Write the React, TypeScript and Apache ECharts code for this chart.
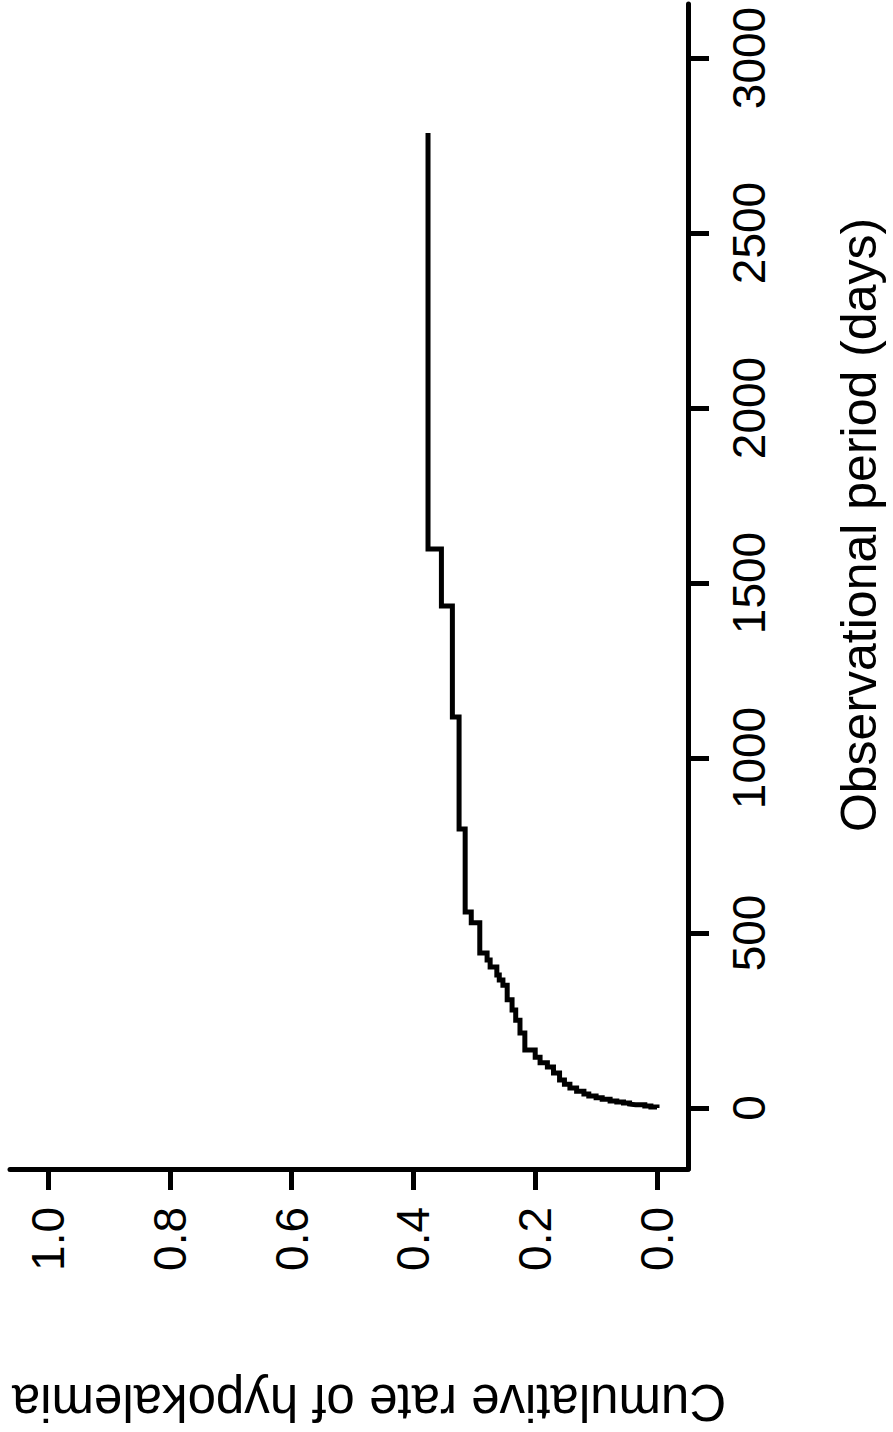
import React, { useEffect, useRef } from "react";
import * as echarts from "echarts";

// Cumulative incidence step function (event day -> cumulative rate after that event)
const eventDays = [0, 3, 6, 9, 11, 14, 17, 20, 25, 29, 34, 40, 48, 57, 68, 80, 100, 117, 129, 145, 166, 214, 251, 280, 309, 351, 366, 380, 403, 423, 443, 529, 560, 797, 1117, 1434, 1597];
const cumRate = [0, 0.01, 0.02, 0.035, 0.045, 0.055, 0.066, 0.077, 0.09, 0.1, 0.112, 0.12, 0.132, 0.143, 0.152, 0.16, 0.17, 0.18, 0.192, 0.2, 0.217, 0.225, 0.232, 0.238, 0.246, 0.253, 0.259, 0.263, 0.274, 0.279, 0.291, 0.305, 0.315, 0.325, 0.336, 0.354, 0.376];
const lastFollowUpDay = 2786;

const dayTicks = [0, 500, 1000, 1500, 2000, 2500, 3000];
const rateTicks = [0, 0.2, 0.4, 0.6, 0.8, 1.0];

const xTitle = "Observational period (days)";
const yTitle = "Cumulative rate of hypokalemia";

function buildSteps(): number[][] {
  const pts: number[][] = [];
  for (let i = 0; i < eventDays.length; i++) {
    if (i > 0) pts.push([cumRate[i - 1], eventDays[i]]);
    pts.push([cumRate[i], eventDays[i]]);
  }
  pts.push([cumRate[cumRate.length - 1], lastFollowUpDay]);
  return pts;
}

export default function App() {
  const ref = useRef<HTMLDivElement>(null);
  useEffect(() => {
    document.body.style.margin = "0";
    const chart = echarts.init(ref.current!, null, { renderer: "svg" });
    const font = "Liberation Sans, Arial, Helvetica, sans-serif";
    chart.setOption({
      animation: false,
      backgroundColor: "#ffffff",
      grid: { left: 10, right: 205, top: 4, bottom: 263, containLabel: false },
      xAxis: {
        type: "value",
        inverse: true,
        position: "bottom",
        min: -0.0509,
        max: 1.0624,
        splitLine: { show: false },
        axisLine: { show: true, onZero: false, lineStyle: { color: "#000", width: 5 } },
        axisTick: { show: true, inside: false, length: 21, customValues: rateTicks, lineStyle: { color: "#000", width: 5 } },
        axisLabel: {
          customValues: rateTicks,
          rotate: 90,
          margin: 38,
          fontSize: 46,
          color: "#000",
          fontFamily: font,
          formatter: (v: number) => v.toFixed(1),
        },
      },
      yAxis: {
        type: "value",
        position: "right",
        min: -174.3,
        max: 3154.3,
        splitLine: { show: false },
        axisLine: { show: true, onZero: false, lineStyle: { color: "#000", width: 5 } },
        axisTick: { show: true, inside: false, length: 21, customValues: dayTicks, lineStyle: { color: "#000", width: 5 } },
        axisLabel: {
          customValues: dayTicks,
          rotate: 90,
          margin: 38,
          fontSize: 46,
          color: "#000",
          fontFamily: font,
          formatter: (v: number) => String(v),
        },
      },
      series: [
        {
          type: "line",
          data: buildSteps(),
          showSymbol: false,
          symbol: "none",
          lineStyle: { color: "#000", width: 5, join: "miter" },
          silent: true,
        },
      ],
      graphic: [
        {
          type: "text",
          x: 859,
          y: 525,
          rotation: Math.PI / 2,
          style: {
            text: xTitle,
            fill: "#000",
            font: `50px ${font}`,
            textAlign: "center",
            textVerticalAlign: "middle",
          },
        },
        {
          type: "text",
          x: 369,
          y: 1402,
          rotation: Math.PI,
          style: {
            text: yTitle,
            fill: "#000",
            font: `51px ${font}`,
            textAlign: "center",
            textVerticalAlign: "middle",
          },
        },
      ],
    });
    return () => chart.dispose();
  }, []);
  return (
    <div
      ref={ref}
      style={{ position: "absolute", left: 0, top: 0, width: 893, height: 1432, background: "#fff" }}
    />
  );
}
